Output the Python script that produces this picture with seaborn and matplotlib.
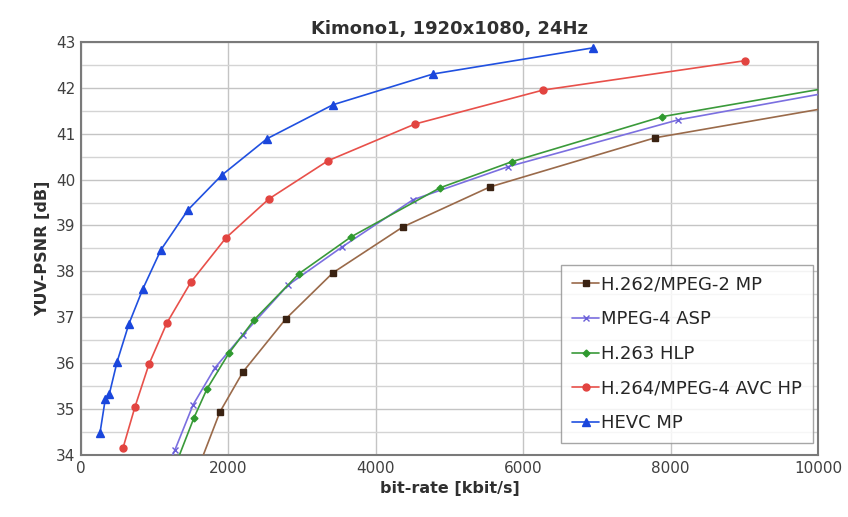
import numpy as np
import pandas as pd
import seaborn as sns
import matplotlib.pyplot as plt
from matplotlib.ticker import MultipleLocator

# --- data (kbit/s, dB) ---
h262_rate = [1600, 1886, 2198, 2782, 3419, 4369, 5549, 7788, 10800]
h262_psnr = [33.75, 34.94, 35.81, 36.97, 37.97, 38.97, 39.84, 40.91, 41.75]

mpeg4_rate = [1220, 1275, 1520, 1818, 2198, 2809, 3541, 4505, 5794, 8100, 10500]
mpeg4_psnr = [33.9, 34.11, 35.09, 35.90, 36.62, 37.70, 38.53, 39.56, 40.28, 41.30, 42.0]

h263_rate = [1300, 1533, 1710, 2008, 2347, 2958, 3663, 4871, 5848, 7883, 10500]
h263_psnr = [33.85, 34.81, 35.44, 36.22, 36.94, 37.95, 38.75, 39.82, 40.39, 41.37, 42.1]

h264_rate = [570, 733, 923, 1167, 1493, 1967, 2551, 3351, 4532, 6269, 9010]
h264_psnr = [34.15, 35.05, 35.98, 36.88, 37.77, 38.73, 39.58, 40.41, 41.21, 41.95, 42.59]

hevc_rate = [258, 330, 385, 490, 651, 840, 1085, 1452, 1913, 2524, 3419, 4776, 6947]
hevc_psnr = [34.48, 35.22, 35.33, 36.03, 36.86, 37.62, 38.47, 39.34, 40.10, 40.89, 41.63, 42.30, 42.87]

series = [
    ("H.262/MPEG-2 MP", h262_rate, h262_psnr),
    ("MPEG-4 ASP", mpeg4_rate, mpeg4_psnr),
    ("H.263 HLP", h263_rate, h263_psnr),
    ("H.264/MPEG-4 AVC HP", h264_rate, h264_psnr),
    ("HEVC MP", hevc_rate, hevc_psnr),
]

# line colour, marker, marker colour, marker size
styles = {
    "H.262/MPEG-2 MP": ("#9a6a4a", "s", "#3a2212", 4.5),
    "MPEG-4 ASP": ("#7b6fe0", "x", "#6a5fd8", 4),
    "H.263 HLP": ("#3a9a3a", "D", "#2f9a2f", 3.5),
    "H.264/MPEG-4 AVC HP": ("#e8504a", "o", "#e24440", 5),
    "HEVC MP": ("#2050e0", "^", "#1a46dc", 5.5),
}

sns.set_theme(style="white")
plt.rcParams['font.family'] = ['DejaVu Sans']

fig, ax = plt.subplots(figsize=(8.48, 5.17), dpi=100)
fig.subplots_adjust(left=0.0955, right=0.9646, top=0.919, bottom=0.12)

for name, rate, psnr in series:
    lc, mk, mc, ms = styles[name]
    df = pd.DataFrame({"rate": rate, "psnr": psnr})
    sns.lineplot(data=df, x="rate", y="psnr", ax=ax, sort=False, color=lc,
                 linewidth=1.2, marker=mk, markersize=ms,
                 markerfacecolor=mc, markeredgecolor=mc, markeredgewidth=1.0,
                 label=name, zorder=3)

ax.set_xlim(0, 10000)
ax.set_ylim(34, 43)
ax.xaxis.set_major_locator(MultipleLocator(2000))
ax.yaxis.set_major_locator(MultipleLocator(1))
ax.yaxis.set_minor_locator(MultipleLocator(0.5))
ax.grid(which='major', axis='both', color='#c4c4c4', linewidth=1.0)
ax.grid(which='minor', axis='y', color='#d4d4d4', linewidth=1.0)
ax.set_axisbelow(True)
for s in ax.spines.values():
    s.set_color('#7a7a7a')
    s.set_linewidth(1.5)

ax.tick_params(axis='both', labelsize=11, colors='#404040', length=0, pad=4)
ax.set_xlabel("bit-rate [kbit/s]", fontsize=11.5, fontweight='bold', color='#303030')
ax.set_ylabel("YUV-PSNR [dB]", fontsize=11.5, fontweight='bold', color='#303030')
ax.set_title("Kimono1, 1920x1080, 24Hz", fontsize=13, fontweight='bold', color='#303030', pad=6)

leg = ax.legend(loc='lower right', bbox_to_anchor=(0.993, 0.029), fontsize=13,
                frameon=True, fancybox=False, handlelength=1.5, handletextpad=0.1,
                labelspacing=0.92, borderpad=0.6, borderaxespad=0.0)
leg.get_frame().set_edgecolor('#909090')
leg.get_frame().set_linewidth(1.0)

plt.savefig("out.png", dpi=100)
